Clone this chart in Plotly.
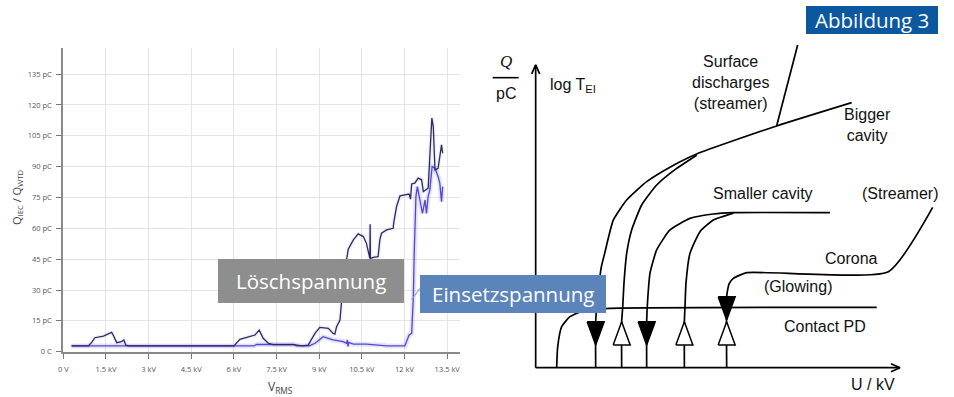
import plotly.graph_objects as go

W, H = 954, 397

# ---------------- left chart: measured PD charge vs. RMS voltage ----------------
kv_ticks = [0, 1.5, 3, 4.5, 6, 7.5, 9, 10.5, 12, 13.5]
kv_labels = ["0 V", "1.5 kV", "3 kV", "4.5 kV", "6 kV", "7.5 kV", "9 kV", "10.5 kV", "12 kV", "13.5 kV"]
pc_ticks = [0, 15, 30, 45, 60, 75, 90, 105, 120, 135]
pc_labels = ["0 C", "15 pC", "30 pC", "45 pC", "60 pC", "75 pC", "90 pC", "105 pC", "120 pC", "135 pC"]

# Löschspannung (extinction) series, dark line
loesch_v = [0.29, 0.88, 1.0, 1.11, 1.41, 1.58, 1.70, 1.74, 1.78, 1.88, 2.05, 2.13, 2.2, 2.3,
            6.0, 6.21, 6.45, 6.74, 6.89, 7.03, 7.21, 7.38, 8.09, 8.4, 8.61, 8.85, 9.02, 9.32,
            9.49, 9.55, 9.61, 9.73, 9.79, 9.84, 9.96, 10.02, 10.2, 10.37, 10.55, 10.66, 10.78,
            10.79, 10.80, 10.81, 10.9, 11.07, 11.13, 11.19, 11.37, 11.6, 11.62, 11.72, 11.84,
            12.01, 12.16, 12.21, 12.25, 12.36, 12.48, 12.6, 12.66, 12.83, 12.89, 12.96, 13.01,
            13.07, 13.18, 13.24, 13.3, 13.34]
loesch_q = [2.8, 2.8, 4.5, 6.8, 7.6, 8.6, 9.4, 8.5, 7.3, 4.4, 4.9, 5.7, 3.2, 2.8,
            2.8, 6.0, 7.0, 8.1, 10.5, 6.5, 4.1, 3.4, 3.4, 2.8, 3.2, 8.9, 11.8, 11.4,
            8.9, 8.6, 12.2, 15.4, 25.2, 38.0, 44.6, 49.8, 54.4, 57.3, 56.0, 52.7, 45.4,
            62.0, 45.4, 45.4, 45.9, 46.2, 54.4, 57.6, 59.2, 60.0, 62.8, 70.6, 75.8,
            76.3, 76.7, 74.2, 81.6, 82.0, 84.4, 83.6, 77.9, 79.5, 93.3, 113.6, 109.5,
            88.4, 89.2, 94.9, 100.6, 96.5]

# Einsetzspannung (inception) series, blue line
einsetz_v = [0.29, 6.7, 6.8, 8.1, 8.2, 8.65, 8.85, 9.14, 9.32, 9.49, 9.84, 9.96, 9.99, 10.01,
             10.04, 10.2, 10.66, 11.25, 11.37, 12.01, 12.16, 12.25, 12.31, 12.34, 12.4, 12.45,
             12.52, 12.6, 12.63, 12.72, 12.77, 12.83, 12.89, 12.97, 13.07, 13.18, 13.24, 13.3, 13.34]
einsetz_q = [2.8, 2.8, 3.5, 3.5, 2.8, 2.8, 4.1, 7.3, 6.5, 5.7, 4.9, 4.1, 5.7, 2.5,
             4.5, 3.7, 3.7, 3.2, 2.8, 2.8, 8.1, 8.9, 26.8, 47.9, 75.4, 80.3,
             75.4, 70.6, 67.3, 73.8, 67.3, 75.4, 78.7, 90.0, 89.2, 85.2, 82.0, 73.0, 80.3]

# ---------------- right chart: schematic (diagram units) ----------------
curve_a_x = [60.0, 60.0, 61.0, 63.0, 65.5, 69.0, 77.7, 91.0, 111.0, 134.3, 161.0, 241.0, 316.0]
curve_a_y = [0.0, 46.0, 60.0, 80.0, 100.0, 114.3, 147.7, 167.7, 186.0, 200.5, 213.7, 241.7, 265.0]
curve_b_x = [86.0, 86.0, 87.0, 88.3, 91.0, 96.0, 106.0, 121.0, 141.0, 161.0]
curve_b_y = [0.0, 46.0, 60.0, 84.3, 114.3, 137.7, 162.7, 182.7, 199.3, 212.5]
surface_x = [241.0, 262.0]
surface_y = [242.0, 322.7]
curve_c_x = [111.0, 111.0, 112.0, 114.3, 121.0, 134.3, 154.3, 177.7, 197.7, 294.3]
curve_c_y = [0.0, 46.0, 67.7, 94.3, 117.7, 137.7, 149.3, 153.7, 155.0, 155.0]
curve_d_x = [148.7, 148.7, 149.3, 150.3, 154.3, 164.3, 177.7, 197.7]
curve_d_y = [0.0, 46.0, 60.0, 84.3, 114.3, 136.0, 147.7, 154.6]
corona_x = [191.0, 191.0, 192.0, 193.5, 197.7, 211.0, 352.7, 397.0]
corona_y = [0.0, 71.0, 78.0, 84.0, 89.3, 95.0, 96.0, 160.3]
contact_x = [21.0, 22.0, 26.0, 34.3, 47.7, 74.3, 341.0]
contact_y = [0.0, 20.7, 41.0, 51.0, 57.0, 59.3, 60.3]
axis_u_x = [0.0, 364.3]
axis_u_y = [0.0, 0.0]
axis_q_x = [0.0, 0.0]
axis_q_y = [0.0, 302.7]

arrow_x = [60.0, 86.0, 111.0, 148.7, 191.0, 191.0]
arrow_y = [34.3, 34.3, 34.3, 34.3, 59.3, 34.3]
arrow_dir = ["down", "up", "down", "up", "down", "up"]

fig = go.Figure()

# --- left chart traces ---
fig.add_trace(go.Scatter(x=einsetz_v, y=einsetz_q, mode="lines", xaxis="x", yaxis="y",
                         line=dict(color="rgba(110,100,235,0.18)", width=5), hoverinfo="skip", showlegend=False))
fig.add_trace(go.Scatter(x=loesch_v, y=loesch_q, mode="lines", xaxis="x", yaxis="y",
                         line=dict(color="rgba(110,100,235,0.10)", width=4), hoverinfo="skip", showlegend=False))
fig.add_trace(go.Scatter(x=einsetz_v, y=einsetz_q, mode="lines", xaxis="x", yaxis="y", name="Einsetzspannung",
                         line=dict(color="#5048d0", width=1.3), showlegend=False))
fig.add_trace(go.Scatter(x=loesch_v, y=loesch_q, mode="lines", xaxis="x", yaxis="y", name="Löschspannung",
                         line=dict(color="#2e2a5c", width=1.3), showlegend=False))

# --- right schematic traces ---
def add_line(xs, ys, shape="spline"):
    fig.add_trace(go.Scatter(x=xs, y=ys, mode="lines", xaxis="x2", yaxis="y2",
                             line=dict(color="black", width=1.7, shape=shape, smoothing=0.5),
                             hoverinfo="skip", showlegend=False))

add_line(axis_u_x, axis_u_y, "linear")
add_line(axis_q_x, axis_q_y, "linear")
# arrow heads of the axes
add_line([-4, 0, 4], [axis_q_y[1] - 9, axis_q_y[1], axis_q_y[1] - 9], "linear")
add_line([axis_u_x[1] - 9, axis_u_x[1], axis_u_x[1] - 9], [4, 0, -4], "linear")
for cx, cy in [(curve_a_x, curve_a_y), (curve_b_x, curve_b_y), (curve_c_x, curve_c_y),
               (curve_d_x, curve_d_y), (corona_x, corona_y), (contact_x, contact_y)]:
    add_line(cx, cy)
add_line(surface_x, surface_y, "linear")

hw, hh = 8.5, 11.7
for ax_, ay_, d in zip(arrow_x, arrow_y, arrow_dir):
    if d == "down":
        tx = [ax_ - hw, ax_ + hw, ax_, ax_ - hw]
        ty = [ay_ + hh, ay_ + hh, ay_ - hh, ay_ + hh]
        fc = "black"
    else:
        tx = [ax_ - hw, ax_ + hw, ax_, ax_ - hw]
        ty = [ay_ - hh, ay_ - hh, ay_ + hh, ay_ - hh]
        fc = "white"
    fig.add_trace(go.Scatter(x=tx, y=ty, mode="lines", fill="toself", fillcolor=fc, xaxis="x2", yaxis="y2",
                             line=dict(color="black", width=1.5), hoverinfo="skip", showlegend=False))

tick_font = dict(family="Open Sans, DejaVu Sans, sans-serif", size=7.5, color="#555")
fig.update_layout(
    width=W, height=H, margin=dict(l=0, r=0, t=0, b=0, autoexpand=False),
    paper_bgcolor="white", plot_bgcolor="rgba(0,0,0,0)",
    xaxis=dict(domain=[63.3 / W, 460 / W], range=[0, 13.95], anchor="y", automargin=False,
               tickvals=kv_ticks, ticktext=kv_labels, tickfont=tick_font,
               showgrid=True, gridcolor="#e4e4e4", gridwidth=1, zeroline=False,
               showline=True, linecolor="#8a8a8a", linewidth=2,
               ticks="outside", ticklen=5, tickcolor="#777", tickwidth=1, ticklabelstandoff=4),
    yaxis=dict(domain=[(H - 351.7) / H, (H - 48) / H], range=[0, 147.7], anchor="x", automargin=False,
               tickvals=pc_ticks, ticktext=pc_labels, tickfont=tick_font,
               showgrid=True, gridcolor="#e4e4e4", gridwidth=1, zeroline=False,
               showline=True, linecolor="#8a8a8a", linewidth=2,
               ticks="outside", ticklen=5, tickcolor="#777", tickwidth=1, ticklabelstandoff=3),
    xaxis2=dict(domain=[470 / W, 1], range=[-65.67, 418.33], anchor="y2", visible=False, automargin=False),
    yaxis2=dict(domain=[0, 1], range=[-29.33, 367.67], anchor="x2", visible=False, automargin=False),
    showlegend=False,
)

def px(x):
    return x / W

def py(y):
    return 1 - y / H

shapes = [
    dict(type="rect", xref="paper", yref="paper", x0=px(218), x1=px(404), y0=py(303), y1=py(259),
         fillcolor="#8e8e8e", line=dict(width=0), layer="above"),
    dict(type="rect", xref="paper", yref="paper", x0=px(420), x1=px(606), y0=py(313), y1=py(275),
         fillcolor="#5b84bb", line=dict(width=0), layer="above"),
    dict(type="rect", xref="paper", yref="paper", x0=px(806), x1=px(938), y0=py(34), y1=py(6),
         fillcolor="#0c58a0", line=dict(width=0), layer="above"),
    dict(type="line", xref="paper", yref="paper", x0=px(411.7), y0=py(299.5), x1=px(420), y1=py(288.5),
         line=dict(color="#7fa6d6", width=1.2), layer="above"),
    dict(type="line", xref="x2", yref="y2", x0=-43, x1=-17, y0=290, y1=290,
         line=dict(color="black", width=1.6)),
]
fig.update_layout(shapes=shapes)

box_font = dict(family="Open Sans, sans-serif", size=20.5, color="white")
diag_font = dict(family="Liberation Sans, Arial, sans-serif", size=16, color="#111")
annotations = [
    dict(xref="paper", yref="paper", x=px(311), y=py(281), text="Löschspannung", showarrow=False,
         font=box_font, xanchor="center", yanchor="middle"),
    dict(xref="paper", yref="paper", x=px(513), y=py(294), text="Einsetzspannung", showarrow=False,
         font=box_font, xanchor="center", yanchor="middle"),
    dict(xref="paper", yref="paper", x=px(872), y=py(20.5), text="Abbildung 3", showarrow=False,
         font=dict(family="Open Sans, sans-serif", size=20.5, color="white"), xanchor="center", yanchor="middle"),
    dict(xref="paper", yref="paper", x=px(17), y=py(198), text="Q<sub>IEC</sub> / Q<sub>WTD</sub>",
         showarrow=False, textangle=-90, font=dict(family="Open Sans, sans-serif", size=11, color="#444"),
         xanchor="center", yanchor="middle"),
    dict(xref="paper", yref="paper", x=px(280), y=py(387), text="V<sub>RMS</sub>", showarrow=False,
         font=dict(family="Open Sans, sans-serif", size=12, color="#444"), xanchor="center", yanchor="middle"),
    dict(xref="x2", yref="y2", x=195.3, y=284.7, text="Surface<br>discharges<br>(streamer)", showarrow=False,
         font=diag_font, xanchor="center", yanchor="middle"),
    dict(xref="x2", yref="y2", x=332.3, y=242.2, text="Bigger<br>cavity", showarrow=False,
         font=diag_font, xanchor="center", yanchor="middle"),
    dict(xref="x2", yref="y2", x=227.3, y=173.7, text="Smaller cavity", showarrow=False,
         font=diag_font, xanchor="center", yanchor="middle"),
    dict(xref="x2", yref="y2", x=364.3, y=173.7, text="(Streamer)", showarrow=False,
         font=diag_font, xanchor="center", yanchor="middle"),
    dict(xref="x2", yref="y2", x=316.0, y=108.7, text="Corona", showarrow=False,
         font=diag_font, xanchor="center", yanchor="middle"),
    dict(xref="x2", yref="y2", x=262.3, y=80.7, text="(Glowing)", showarrow=False,
         font=diag_font, xanchor="center", yanchor="middle"),
    dict(xref="x2", yref="y2", x=289.3, y=41.0, text="Contact PD", showarrow=False,
         font=diag_font, xanchor="center", yanchor="middle"),
    dict(xref="x2", yref="y2", x=337.3, y=-17.3, text="U / kV", showarrow=False,
         font=diag_font, xanchor="center", yanchor="middle"),
    dict(xref="x2", yref="y2", x=12.0, y=281.7, text="log T<sub>EI</sub>", showarrow=False,
         font=diag_font, xanchor="left", yanchor="middle"),
    dict(xref="x2", yref="y2", x=-30.0, y=306.0, text="<i>Q</i>", showarrow=False,
         font=dict(family="Liberation Serif, DejaVu Serif, serif", size=17, color="#111"),
         xanchor="center", yanchor="middle"),
    dict(xref="x2", yref="y2", x=-29.7, y=274.4, text="pC", showarrow=False,
         font=diag_font, xanchor="center", yanchor="middle"),
]
fig.update_layout(annotations=annotations)

fig.write_html("out.html", config={"displayModeBar": False},
               post_script="document.body.style.margin='0px';")
